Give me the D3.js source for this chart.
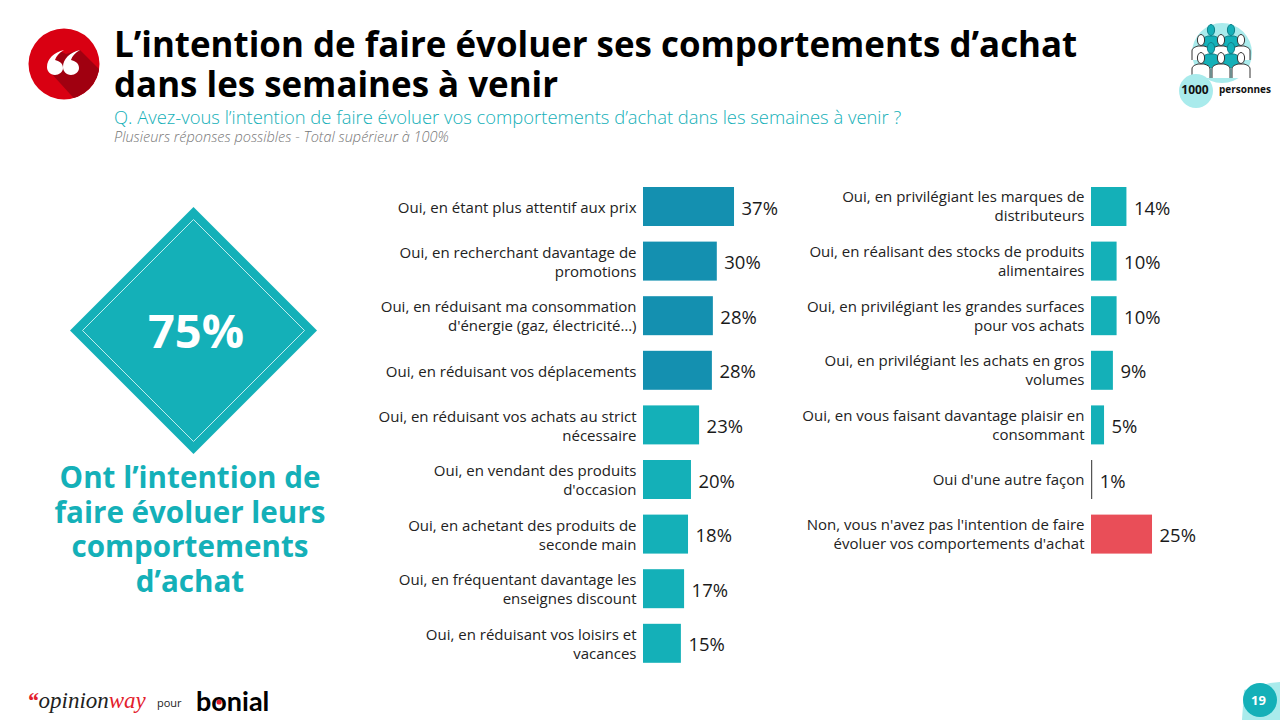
<!DOCTYPE html>
<html><head><meta charset="utf-8">
<script src="https://cdn.jsdelivr.net/npm/d3@7"></script>
<style>html,body{margin:0;padding:0;background:#fff;overflow:hidden}svg{display:block}text{font-family:"Open Sans","Noto Sans",sans-serif}</style>
</head><body><div id="chart"></div>
<script>
const titleLines = ["L’intention de faire évoluer ses comportements d’achat", "dans les semaines à venir"];
const question = "Q. Avez-vous l’intention de faire évoluer vos comportements d’achat dans les semaines à venir ?";
const note = "Plusieurs réponses possibles - Total supérieur à 100%";
const leftCategories = [
 "Oui, en étant plus attentif aux prix",
 "Oui, en recherchant davantage de|promotions",
 "Oui, en réduisant ma consommation|d'énergie (gaz, électricité…)",
 "Oui, en réduisant vos déplacements",
 "Oui, en réduisant vos achats au strict|nécessaire",
 "Oui, en vendant des produits|d'occasion",
 "Oui, en achetant des produits de|seconde main",
 "Oui, en fréquentant davantage les|enseignes discount",
 "Oui, en réduisant vos loisirs et|vacances"];
const leftValues = [37, 30, 28.4, 28, 22.8, 19.5, 18.3, 16.7, 15.4];
const leftGroups = ["top","top","top","top","rest","rest","rest","rest","rest"];
const rightCategories = [
 "Oui, en privilégiant les marques de|distributeurs",
 "Oui, en réalisant des stocks de produits|alimentaires",
 "Oui, en privilégiant les grandes surfaces|pour vos achats",
 "Oui, en privilégiant les achats en gros|volumes",
 "Oui, en vous faisant davantage plaisir en|consommant",
 "Oui d'une autre façon",
 "Non, vous n'avez pas l'intention de faire|évoluer vos comportements d'achat"];
const rightValues = [14.4, 10.4, 10.4, 8.9, 5.3, 0.5, 24.8];
const rightGroups = ["rest","rest","rest","rest","rest","rest","no"];
const calloutValue = "75%";
const calloutLines = ["Ont l’intention de","faire évoluer leurs","comportements","d’achat"];

const TEAL="#14b0b8", BLUE="#1490b0", RED="#e94e58", LIGHT="#a9ebec";
const groupColor = d3.scaleOrdinal().domain(["top","rest","no"]).range([BLUE,TEAL,RED]);
const svg = d3.select("#chart").append("svg").attr("width",1280).attr("height",720);
const x = d3.scaleLinear().domain([0,100]).range([0,246]);
const STEP=54.6, TOP=179.2;

function column(cats, vals, groups, x0, labelShift){
  const y = d3.scaleBand().domain(cats).range([TOP, TOP+STEP*cats.length]).paddingInner(0.286).paddingOuter(0.143);
  const g = svg.append("g");
  const row = g.selectAll("g").data(cats.map((c,i)=>({c,v:vals[i],k:groups[i]}))).join("g");
  row.append("rect").attr("x",x0).attr("y",d=>y(d.c)).attr("width",d=>x(d.v)).attr("height",y.bandwidth()).attr("fill",d=>d.v<1?"#555":groupColor(d.k));
  row.append("text").attr("x",d=>x0+x(d.v)+7.5).attr("y",d=>y(d.c)+y.bandwidth()/2+1.5).attr("dy","0.36em")
    .attr("font-size",18.5).attr("fill","#1a1a1a").text(d=>Math.round(d.v)+"%");
  row.each(function(d){
    const lines=d.c.split("|"); const cy=y(d.c)+y.bandwidth()/2;
    d3.select(this).selectAll("text.l").data(lines).join("text").attr("class","l")
      .attr("x",x0-6.5).attr("text-anchor","end").attr("font-size",15).attr("fill","#222")
      .attr("y",(l,i)=>cy+(i-(lines.length-1)/2)*19+labelShift).attr("dy","0.36em").text(l=>l);
  });
}
column(leftCategories,leftValues,leftGroups,643,0.8);
column(rightCategories,rightValues,rightGroups,1091,0);

// header
svg.selectAll("text.t").data(titleLines).join("text").attr("class","t").attr("x",114).attr("y",(d,i)=>57+i*40)
  .attr("font-size",34.9).attr("font-weight",700).attr("fill","#000").text(d=>d);
svg.append("text").attr("x",114).attr("y",124).attr("font-size",18.4).attr("font-weight",300).attr("fill",TEAL).text(question);
svg.append("text").attr("x",114).attr("y",142).attr("font-size",14.5).attr("font-style","italic").attr("font-weight",300).attr("fill","#777").text(note);

// quote badge
const clip=svg.append("clipPath").attr("id","bc"); clip.append("circle").attr("cx",64).attr("cy",64).attr("r",35.5);
svg.append("circle").attr("cx",64).attr("cy",64).attr("r",35.5).attr("fill","#d90012");
svg.append("path").attr("clip-path","url(#bc)").attr("fill","#a00010").attr("d","M60 51L66 54L80 50L105 75L80 105L50 72Z");
const qm="M0 25C-5 25-8 21-8 17C-8 9-1 2 9 0C4 3 1 6 0 10C4 11 8 13 8 18C8 22 4 25 0 25Z";
[55,71].forEach(q=>svg.append("path").attr("d",qm).attr("transform",`translate(${q},50)`).attr("fill","#fff"));

// callout diamond
const dia=(cx,cy,r)=>`M${cx} ${cy-r}L${cx+r} ${cy}L${cx} ${cy+r}L${cx-r} ${cy}Z`;
svg.append("path").attr("d",dia(193.5,330.5,123.5)).attr("fill",TEAL);
svg.append("path").attr("d",dia(193.5,330.5,111)).attr("fill","none").attr("stroke","#bfecee").attr("stroke-width",1);
svg.append("text").attr("x",196).attr("y",348).attr("text-anchor","middle").attr("font-size",47).attr("font-weight",700).attr("fill","#fff").text(calloutValue);
svg.selectAll("text.c").data(calloutLines).join("text").attr("class","c").attr("x",190).attr("y",(d,i)=>488+i*34.5)
  .attr("text-anchor","middle").attr("font-size",29.6).attr("font-weight",700).attr("fill",TEAL).text(d=>d);

// people icon
svg.append("circle").attr("cx",1222).attr("cy",53).attr("r",30).attr("fill",LIGHT);
function person(px,py,fill){
  const g=svg.append("g").attr("transform",`translate(${px},${py})`).attr("fill",fill).attr("stroke",fill==="#fff"?"#333":"#0e7f88").attr("stroke-width",1);
  g.append("path").attr("d","M-9 17V8C-9 5-6 4-3 3H3C6 4 9 5 9 8V17");
  g.append("ellipse").attr("cx",0).attr("cy",-3).attr("rx",3.6).attr("ry",5.5);
}
[[1211,33],[1231,33]].forEach(p=>person(p[0],p[1],TEAL));
[[1201,43],[1221,43],[1241,43]].forEach(p=>person(p[0],p[1],"#fff"));
[[1211,51],[1231,51]].forEach(p=>person(p[0],p[1],TEAL));
[[1201,61],[1221,61],[1241,61]].forEach(p=>person(p[0],p[1],"#fff"));
svg.append("circle").attr("cx",1196).attr("cy",91).attr("r",17).attr("fill",LIGHT);
svg.append("text").attr("x",1195).attr("y",94).attr("text-anchor","middle").attr("font-size",12).attr("font-weight",700).attr("fill","#111").text("1000");
svg.append("text").attr("x",1219).attr("y",93).attr("font-size",10).attr("font-weight",700).attr("fill","#111").text("personnes");

// footer
const op=svg.append("text").attr("x",27).attr("y",708).attr("font-size",23).attr("font-style","italic").style("font-family","'Liberation Serif',serif");
op.append("tspan").attr("fill","#e3202c").attr("font-weight",700).text("“");
op.append("tspan").attr("fill","#222").text("opinion");
op.append("tspan").attr("fill","#e3202c").text("way");
svg.append("text").attr("x",157).attr("y",707).attr("font-size",11).attr("fill","#222").text("pour");
const bo=svg.append("text").attr("x",196).attr("y",711).attr("font-size",27).attr("font-weight",700).attr("fill","#000").style("font-family","Lato,sans-serif").text("bonial");
const oBox=bo.node().getExtentOfChar(1);
svg.append("circle").attr("cx",oBox.x+oBox.width/2).attr("cy",702).attr("r",2.6).attr("fill","#e3202c");
svg.append("path").attr("fill",LIGHT).attr("d","M1242 720L1244 690L1270 683L1280 682V720Z");
svg.append("circle").attr("cx",1260).attr("cy",700).attr("r",17).attr("fill",TEAL);
svg.append("text").attr("x",1258.5).attr("y",705).attr("text-anchor","middle").attr("font-size",13).attr("font-weight",700).attr("fill","#fff").text("19");
</script></body></html>
